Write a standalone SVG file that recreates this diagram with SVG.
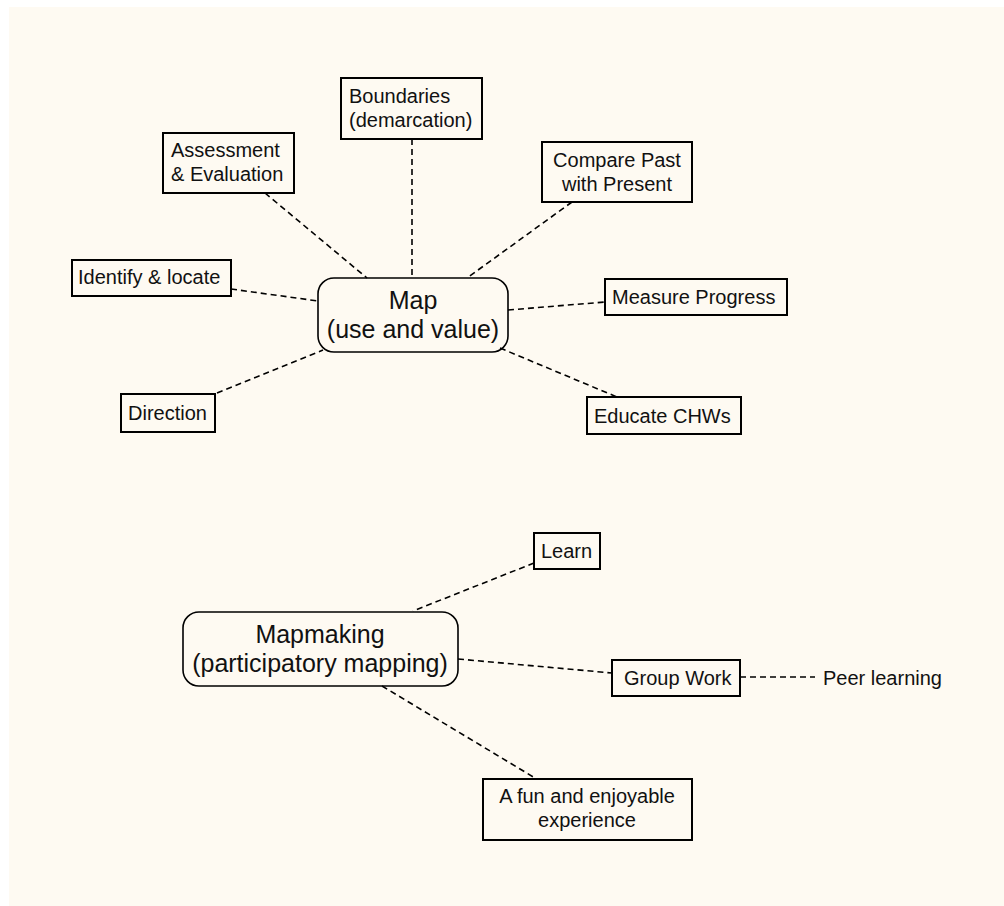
<svg xmlns="http://www.w3.org/2000/svg" width="1004" height="906" viewBox="0 0 1004 906">
<style>
text{font-family:"Liberation Sans",Arial,Helvetica,sans-serif;font-size:20px;fill:#111}
.t{font-size:25px}
.box{fill:none;stroke:#000;stroke-width:2}
.rbox{fill:none;stroke:#000;stroke-width:1.6}
.c line{stroke:#000;stroke-width:1.6;stroke-dasharray:6 4;fill:none}
.m{text-anchor:middle}
</style>
<rect x="0" y="0" width="1004" height="906" fill="#ffffff"/>
<rect x="9" y="7" width="995" height="899" fill="#fefaf2"/>
<g class="c" id="connectors">
<line x1="412" y1="139" x2="412" y2="278"/>
<line x1="265" y1="193" x2="367" y2="278"/>
<line x1="572" y1="202" x2="467" y2="278"/>
<line x1="231" y1="289" x2="318" y2="301"/>
<line x1="217" y1="393" x2="323" y2="350"/>
<line x1="508" y1="310" x2="605" y2="302"/>
<line x1="500" y1="348" x2="617" y2="397"/>
<line x1="534" y1="563" x2="413" y2="611"/>
<line x1="458" y1="659" x2="612" y2="673"/>
<line x1="740" y1="677" x2="815" y2="677"/>
<line x1="382" y1="686" x2="535" y2="778"/>
</g>
<g id="map">
<rect class="rbox" x="318" y="278" width="190" height="74" rx="16"/>
<text class="t m" x="413" y="309">Map</text>
<text class="t m" x="413" y="338">(use and value)</text>
</g>
<g id="boundaries">
<rect class="box" x="341" y="78" width="141" height="61"/>
<text x="349" y="103">Boundaries</text>
<text x="349" y="127">(demarcation)</text>
</g>
<g id="assessment">
<rect class="box" x="163" y="133" width="131" height="60"/>
<text x="171" y="157">Assessment</text>
<text x="171" y="181">&amp; Evaluation</text>
</g>
<g id="compare">
<rect class="box" x="542" y="142" width="150" height="60"/>
<text class="m" x="617" y="167">Compare Past</text>
<text class="m" x="617" y="191">with Present</text>
</g>
<g id="identify">
<rect class="box" x="72" y="260" width="159" height="36"/>
<text x="78" y="284">Identify &amp; locate</text>
</g>
<g id="direction">
<rect class="box" x="121" y="394" width="94" height="38"/>
<text x="128" y="420">Direction</text>
</g>
<g id="measure">
<rect class="box" x="605" y="279" width="182" height="36"/>
<text x="612" y="304">Measure Progress</text>
</g>
<g id="educate">
<rect class="box" x="587" y="397" width="154" height="37"/>
<text x="594" y="423">Educate CHWs</text>
</g>
<g id="mapmaking">
<rect class="rbox" x="183" y="612" width="275" height="74" rx="16"/>
<text class="t m" x="320" y="643">Mapmaking</text>
<text class="t m" x="320" y="672">(participatory mapping)</text>
</g>
<g id="learn">
<rect class="box" x="534" y="533" width="66" height="36"/>
<text x="541" y="558">Learn</text>
</g>
<g id="groupwork">
<rect class="box" x="612" y="660" width="128" height="36"/>
<text x="624" y="685">Group Work</text>
</g>
<g id="peer">
<text x="823" y="685">Peer learning</text>
</g>
<g id="fun">
<rect class="box" x="483" y="779" width="209" height="61"/>
<text class="m" x="587" y="803">A fun and enjoyable</text>
<text class="m" x="587" y="827">experience</text>
</g>
</svg>
